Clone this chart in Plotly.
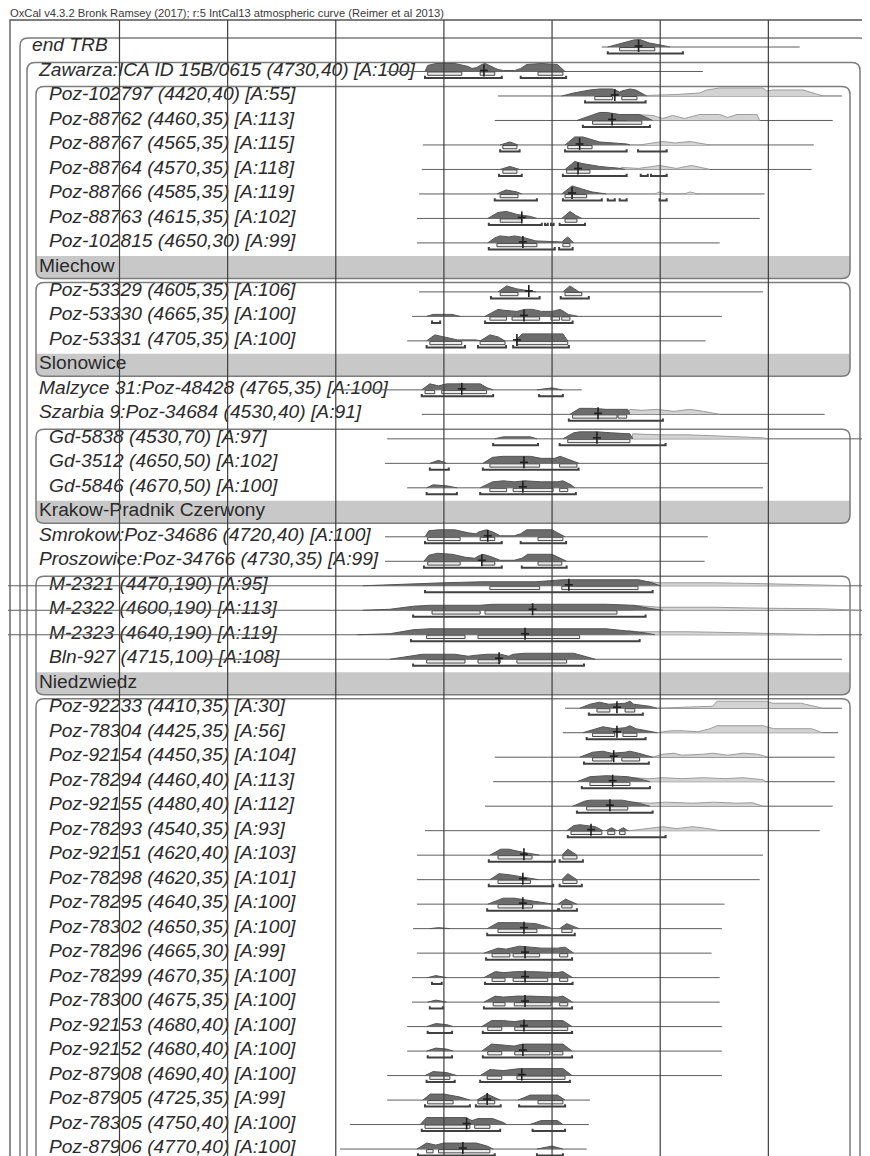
import plotly.graph_objects as go

TITLE = "OxCal v4.3.2 Bronk Ramsey (2017); r:5 IntCal13 atmospheric curve (Reimer et al 2013)"

LABELS = [
    "end TRB", "Zawarza:ICA ID 15B/0615 (4730,40) [A:100]",
    "Poz-102797 (4420,40) [A:55]", "Poz-88762 (4460,35) [A:113]", "Poz-88767 (4565,35) [A:115]",
    "Poz-88764 (4570,35) [A:118]", "Poz-88766 (4585,35) [A:119]", "Poz-88763 (4615,35) [A:102]",
    "Poz-102815 (4650,30) [A:99]", "Miechow",
    "Poz-53329 (4605,35) [A:106]", "Poz-53330 (4665,35) [A:100]", "Poz-53331 (4705,35) [A:100]", "Slonowice",
    "Malzyce 31:Poz-48428 (4765,35) [A:100]", "Szarbia 9:Poz-34684 (4530,40) [A:91]",
    "Gd-5838 (4530,70) [A:97]", "Gd-3512 (4650,50) [A:102]", "Gd-5846 (4670,50) [A:100]", "Krakow-Pradnik Czerwony",
    "Smrokow:Poz-34686 (4720,40) [A:100]", "Proszowice:Poz-34766 (4730,35) [A:99]",
    "M-2321 (4470,190) [A:95]", "M-2322 (4600,190) [A:113]", "M-2323 (4640,190) [A:119]", "Bln-927 (4715,100) [A:108]",
    "Niedzwiedz",
    "Poz-92233 (4410,35) [A:30]", "Poz-78304 (4425,35) [A:56]", "Poz-92154 (4450,35) [A:104]",
    "Poz-78294 (4460,40) [A:113]", "Poz-92155 (4480,40) [A:112]", "Poz-78293 (4540,35) [A:93]",
    "Poz-92151 (4620,40) [A:103]", "Poz-78298 (4620,35) [A:101]", "Poz-78295 (4640,35) [A:100]",
    "Poz-78302 (4650,35) [A:100]", "Poz-78296 (4665,30) [A:99]", "Poz-78299 (4670,35) [A:100]",
    "Poz-78300 (4675,35) [A:100]", "Poz-92153 (4680,40) [A:100]", "Poz-92152 (4680,40) [A:100]",
    "Poz-87908 (4690,40) [A:100]", "Poz-87905 (4725,35) [A:99]", "Poz-78305 (4750,40) [A:100]",
    "Poz-87906 (4770,40) [A:100]",
]

KINDS = (["top", "l1"] + ["l2"] * 7 + ["band"] + ["l2"] * 3 + ["band"] + ["l1"] * 2 + ["l2"] * 3 + ["band"]
         + ["l1"] * 2 + ["l2"] * 4 + ["band"] + ["l2"] * 19)

LINE_START = [3308, 3705, 3500, 3506, 3639, 3641, 3646, 3650, 3650, None,
              3646, 3659, 3668, None, 3792, 3641, 3705, 3709, 3668, None,
              3709, 3709, 4500, 4500, 4500, 4051, None,
              3376, 3380, 3506, 3509, 3524, 3635, 3650, 3650, 3650, 3657, 3650, 3659, 3659,
              3668, 3668, 3705, 3705, 3774, 3792]
LINE_END = [2942, 3121, 2864, 2881, 2916, 2920, 3007, 3016, 3090, None,
            3010, 3086, 3116, None, 3345, 2896, 2780, 3001, 3010, None,
            3112, 3118, 2700, 2700, 2700, 2864, None,
            2864, 2871, 2877, 2877, 2881, 2905, 3010, 3016, 3081, 3086, 3105, 3090, 3090,
            3086, 3086, 3086, 3330, 3332, 3336]

MEDIAN = [3240, 3526, 3284, 3289, 3349, 3352, 3363, 3456, 3454, None,
          3443, 3452, 3465, None, 3567, 3315, 3317, 3452, 3454, None,
          3519, 3530, 3369, 3436, 3450, 3498, None,
          3280, 3280, 3286, 3288, 3293, 3328, 3452, 3454, 3454, 3452, 3450, 3450, 3450,
          3452, 3454, 3456, 3520, 3558, 3565]

# posterior outlines: [year BC, height]
POSTERIOR = [
    [[[3297, 0], [3275, 3], [3249, 7], [3238, 7.5], [3220, 4], [3200, 2], [3182, 0]]],
    [[[3635, 0], [3630, 6], [3615, 8], [3580, 8], [3555, 5], [3548, 3], [3539, 4], [3530, 7], [3524, 8], [3515, 6],
      [3500, 2], [3490, 1], [3469, 1], [3458, 3], [3447, 7], [3420, 8], [3390, 7], [3376, 0]]],
    [[[3382, 0], [3360, 3], [3330, 6], [3312, 7], [3288, 7], [3275, 4], [3271, 5], [3256, 7], [3245, 6], [3225, 0]]],
    [[[3354, 0], [3330, 5], [3312, 8], [3299, 8], [3275, 6], [3238, 6], [3214, 0]]],
    [[[3496, 0], [3478, 3], [3463, 0]], [[3376, 0], [3358, 8], [3343, 8], [3312, 3], [3262, 1], [3256, 0]]],
    [[[3496, 0], [3478, 3], [3460, 0]], [[3376, 0], [3358, 8], [3345, 6], [3312, 3], [3275, 1], [3265, 0]]],
    [[[3502, 0], [3485, 4], [3465, 2], [3456, 0]], [[3382, 0], [3363, 8], [3345, 5], [3326, 2], [3300, 0]]],
    [[[3519, 0], [3500, 6], [3484, 7], [3465, 4], [3440, 2], [3428, 0]], [[3382, 0], [3367, 7], [3356, 3], [3345, 0]]],
    [[[3519, 0], [3506, 5], [3496, 7], [3480, 6], [3469, 7], [3450, 5], [3430, 2], [3400, 1], [3382, 1], [3371, 6], [3360, 0]]],
    None,
    [[[3500, 0], [3484, 6], [3465, 3], [3440, 1], [3430, 0]], [[3380, 0], [3367, 6], [3350, 0]]],
    [[[3632, 0], [3620, 2], [3585, 2], [3570, 0]],
     [[3524, 0], [3500, 7], [3487, 6], [3465, 5], [3450, 7], [3436, 7], [3420, 5], [3400, 5], [3385, 7], [3370, 2], [3352, 0]]],
    [[[3632, 0], [3617, 6], [3600, 4], [3575, 1], [3540, 1], [3533, 0]], [[3533, 0], [3515, 6], [3500, 4], [3487, 0]],
     [[3469, 0], [3455, 7], [3380, 7], [3371, 0]]],
    None,
    [[[3641, 0], [3626, 6], [3610, 4], [3595, 6], [3540, 6], [3533, 6], [3520, 2], [3509, 0]], [[3428, 0], [3400, 2], [3382, 0]]],
    [[[3367, 0], [3349, 6], [3325, 6], [3300, 5], [3260, 5], [3256, 0]]],
    [[[3506, 0], [3490, 2], [3440, 2], [3428, 0]], [[3380, 0], [3360, 6], [3349, 7], [3317, 7], [3290, 6], [3256, 5], [3251, 0]]],
    [[[3626, 0], [3610, 3], [3595, 0]],
     [[3528, 0], [3510, 6], [3490, 7], [3440, 7], [3420, 5], [3395, 5], [3385, 7], [3365, 3], [3350, 0]]],
    [[[3632, 0], [3620, 3], [3595, 2], [3576, 0]],
     [[3533, 0], [3510, 6], [3490, 7], [3470, 6], [3450, 7], [3420, 6], [3390, 6], [3380, 7], [3365, 3], [3358, 0]]],
    None,
    [[[3635, 0], [3628, 6], [3610, 7], [3580, 7], [3555, 4], [3541, 3], [3535, 5], [3522, 7], [3510, 5], [3496, 1],
      [3470, 1], [3458, 3], [3447, 7], [3400, 7], [3376, 0]]],
    [[[3637, 0], [3628, 6], [3612, 8], [3585, 7], [3560, 4], [3543, 3], [3537, 5], [3528, 7], [3515, 5], [3496, 1],
      [3470, 1], [3456, 3], [3445, 7], [3400, 7], [3373, 0]]],
    [[[3750, 0], [3660, 2], [3600, 3], [3530, 4], [3430, 4], [3380, 6], [3240, 6], [3215, 3], [3200, 0]]],
    [[[3750, 0], [3700, 1], [3657, 4], [3626, 5], [3533, 5], [3510, 6], [3300, 6], [3250, 5], [3220, 2], [3195, 0]]],
    [[[3760, 0], [3700, 1], [3657, 5], [3626, 6], [3300, 6], [3260, 4], [3230, 2], [3210, 0]]],
    [[[3700, 0], [3663, 3], [3640, 5], [3580, 5], [3555, 3], [3541, 4], [3520, 5], [3495, 5], [3480, 3], [3472, 5],
      [3450, 6], [3360, 6], [3340, 3], [3320, 0]]],
    None,
    [[[3349, 0], [3330, 4], [3312, 6], [3295, 4], [3265, 5], [3256, 7], [3249, 4], [3220, 2], [3206, 0]]],
    [[[3343, 0], [3320, 4], [3306, 6], [3285, 4], [3265, 5], [3256, 7], [3245, 4], [3215, 1], [3206, 0]]],
    [[[3349, 0], [3325, 5], [3306, 6], [3290, 4], [3265, 5], [3256, 6], [3240, 4], [3214, 0]]],
    [[[3354, 0], [3330, 5], [3299, 6], [3260, 5], [3240, 3], [3219, 0]]],
    [[[3362, 0], [3340, 5], [3330, 6], [3270, 6], [3240, 3], [3219, 0]]],
    [[[3373, 0], [3360, 5], [3349, 6], [3320, 4], [3306, 0]], [[3300, 0], [3290, 3], [3280, 0]], [[3278, 0], [3268, 3], [3260, 0]]],
    [[[3515, 0], [3495, 6], [3480, 6], [3455, 3], [3423, 0]], [[3382, 0], [3371, 6], [3354, 0]]],
    [[[3515, 0], [3498, 6], [3480, 5], [3455, 3], [3425, 0]], [[3382, 0], [3371, 6], [3354, 0]]],
    [[[3519, 0], [3490, 6], [3470, 6], [3445, 4], [3410, 1], [3398, 0]], [[3389, 0], [3375, 5], [3354, 0]]],
    [[[3626, 0], [3610, 1], [3589, 0]], [[3520, 0], [3500, 6], [3460, 6], [3430, 5], [3410, 2], [3400, 0]],
     [[3386, 0], [3373, 5], [3350, 0]]],
    [[[3526, 0], [3500, 5], [3485, 4], [3460, 7], [3440, 6], [3420, 5], [3390, 5], [3376, 6], [3360, 0]]],
    [[[3630, 0], [3615, 2], [3595, 0]],
     [[3526, 0], [3505, 6], [3490, 5], [3465, 6], [3440, 6], [3410, 5], [3390, 5], [3380, 6], [3362, 0]]],
    [[[3630, 0], [3615, 2], [3595, 0]],
     [[3526, 0], [3505, 6], [3490, 5], [3465, 6], [3440, 6], [3410, 5], [3390, 5], [3380, 6], [3362, 0]]],
    [[[3632, 0], [3615, 3], [3595, 2], [3583, 0]], [[3530, 0], [3512, 6], [3490, 6], [3470, 5], [3455, 6], [3380, 6], [3363, 0]]],
    [[[3632, 0], [3615, 3], [3595, 2], [3583, 0]], [[3530, 0], [3512, 7], [3490, 6], [3470, 5], [3455, 7], [3380, 7], [3363, 0]]],
    [[[3635, 0], [3620, 4], [3595, 3], [3576, 0]], [[3533, 0], [3515, 6], [3490, 5], [3472, 6], [3460, 7], [3380, 7], [3363, 0]]],
    [[[3639, 0], [3625, 6], [3600, 6], [3570, 3], [3552, 0]], [[3539, 0], [3520, 6], [3496, 0]],
     [[3463, 0], [3440, 5], [3390, 5], [3376, 0]]],
    [[[3644, 0], [3632, 7], [3560, 7], [3548, 4], [3537, 6], [3510, 6], [3490, 2], [3484, 0]],
     [[3441, 0], [3420, 4], [3390, 4], [3380, 0]]],
    [[[3650, 0], [3632, 6], [3615, 4], [3600, 6], [3540, 6], [3520, 3], [3509, 0]], [[3428, 0], [3400, 3], [3380, 0]]],
]

# unmodelled likelihood outlines where visible beyond the posterior
LIKELIHOOD = [None] * 46
LIKELIHOOD[2] = [[[3225, 0], [3225, 0.5], [3169, 1.5], [3127, 3], [3114, 6], [3090, 8], [3010, 8], [3003, 5], [2992, 6],
                  [2936, 6], [2899, 0]]]
LIKELIHOOD[3] = [[[3262, 0], [3247, 6], [3214, 5], [3195, 2], [3177, 5], [3155, 2], [3127, 6], [3090, 6], [3075, 3],
                  [3058, 6], [3021, 6], [3016, 0]]]
LIKELIHOOD[4] = [[[3238, 0], [3195, 3.5], [3173, 2], [3145, 3.5], [3108, 0]]]
LIKELIHOOD[5] = [[[3293, 0], [3289, 2], [3275, 1], [3271, 2], [3240, 1], [3201, 4], [3170, 1], [3142, 4], [3108, 0]]]
LIKELIHOOD[6] = [[[3210, 0], [3201, 2], [3190, 0]], [[3155, 0], [3145, 2], [3130, 0]]]
LIKELIHOOD[15] = [[[3260, 0], [3256, 5], [3235, 4], [3206, 5], [3175, 3], [3145, 5], [3120, 3], [3090, 0]]]
LIKELIHOOD[16] = [[[3251, 0], [3251, 5], [3200, 4], [3150, 4], [3100, 3], [3050, 2], [3010, 1], [3000, 0]]]
LIKELIHOOD[22] = [[[3240, 0], [3240, 5], [3200, 3], [3100, 3], [3000, 2], [2900, 1], [2850, 0]]]
LIKELIHOOD[23] = [[[3250, 0], [3250, 5], [3200, 3], [3100, 3], [3000, 2], [2900, 1.5], [2830, 0]]]
LIKELIHOOD[24] = [[[3260, 0], [3260, 4], [3238, 3], [3150, 3], [3050, 2], [2950, 1], [2900, 0]]]
LIKELIHOOD[27] = [[[3206, 0], [3150, 1], [3103, 2], [3095, 7], [3003, 7], [2992, 5], [2940, 5], [2915, 2], [2900, 0]]]
LIKELIHOOD[28] = [[[3206, 0], [3180, 2], [3160, 2], [3130, 1], [3108, 4], [3095, 7], [3010, 7], [2990, 4], [2920, 4], [2900, 0]]]
LIKELIHOOD[29] = [[[3214, 0], [3195, 3], [3175, 4], [3160, 2], [3120, 3], [3103, 4], [3075, 2], [3047, 4], [3020, 3], [3000, 0]]]
LIKELIHOOD[30] = [[[3262, 0], [3250, 4], [3220, 3], [3195, 4], [3160, 3], [3120, 4], [3080, 3], [3047, 4], [3010, 2], [3005, 0]]]
LIKELIHOOD[31] = [[[3256, 0], [3250, 4], [3220, 3], [3190, 4], [3140, 3], [3100, 4], [3060, 3], [3030, 3.5], [3010, 0]]]
LIKELIHOOD[32] = [[[3256, 0], [3230, 2], [3195, 4], [3170, 2], [3140, 4], [3110, 2], [3090, 0]]]

RANGE68 = [
    [[3275, 3210]], [[3630, 3567], [3533, 3506], [3426, 3380]], [[3321, 3288], [3271, 3243]], [[3325, 3234]],
    [[3491, 3465], [3371, 3326]], [[3491, 3465], [3373, 3330]], [[3496, 3463], [3376, 3336]],
    [[3496, 3456], [3376, 3354]], [[3502, 3428], [3380, 3367]], None,
    [[3496, 3463], [3376, 3345]], [[3515, 3484], [3474, 3423], [3402, 3386], [3382, 3367]],
    [[3626, 3567], [3533, 3487], [3465, 3371]], None,
    [[3635, 3617], [3604, 3521]], [[3362, 3280], [3278, 3262]], [[3371, 3256]], [[3515, 3423], [3386, 3354]],
    [[3515, 3484], [3472, 3398], [3386, 3371]], None,
    [[3630, 3570], [3533, 3506], [3426, 3380]], [[3630, 3570], [3530, 3506], [3426, 3382]],
    [[3515, 3423], [3382, 3241]], [[3622, 3533], [3524, 3280]], [[3632, 3561], [3537, 3349]],
    [[3632, 3561], [3537, 3496], [3465, 3373]], None,
    [[3317, 3293], [3265, 3247]], [[3325, 3284], [3269, 3243]], [[3325, 3289], [3271, 3238]], [[3330, 3256]],
    [[3336, 3260]], [[3365, 3308], [3297, 3284], [3275, 3265]], [[3500, 3437], [3380, 3354]],
    [[3500, 3440], [3380, 3354]], [[3500, 3436], [3382, 3363]], [[3500, 3428], [3382, 3363]],
    [[3511, 3478], [3472, 3423], [3386, 3371]], [[3511, 3487], [3472, 3408], [3386, 3371]],
    [[3509, 3487], [3470, 3402], [3386, 3371]], [[3519, 3493], [3469, 3371]],
    [[3519, 3493], [3469, 3404], [3400, 3380]], [[3626, 3589], [3520, 3493], [3465, 3376]],
    [[3630, 3583], [3537, 3506], [3426, 3380]], [[3635, 3552], [3543, 3515]], [[3632, 3620], [3610, 3515]],
]

RANGE95 = [
    [[3297, 3158]], [[3635, 3493], [3458, 3374]], [[3339, 3227]], [[3343, 3219]],
    [[3496, 3460], [3376, 3262], [3241, 3188]], [[3498, 3456], [3380, 3262], [3236, 3223], [3217, 3188]],
    [[3506, 3428], [3380, 3308], [3297, 3284], [3275, 3262], [3201, 3188]],
    [[3517, 3419], [3413, 3408], [3402, 3397], [3386, 3339]], [[3517, 3395], [3387, 3362]], None,
    [[3513, 3423], [3384, 3332]], [[3622, 3607], [3524, 3362]], [[3632, 3561], [3537, 3485], [3472, 3369]], None,
    [[3641, 3509], [3424, 3380]], [[3369, 3195]], [[3509, 3426], [3386, 3190]], [[3626, 3591], [3528, 3351]],
    [[3632, 3576], [3533, 3356]], None,
    [[3635, 3493], [3458, 3374]], [[3637, 3493], [3456, 3373]],
    [[3635, 3214]], [[3657, 3227]], [[3661, 3238]], [[3657, 3341]], None,
    [[3332, 3232]], [[3336, 3227]], [[3341, 3221]], [[3345, 3219]], [[3354, 3214]], [[3371, 3190]],
    [[3517, 3395], [3386, 3343]], [[3517, 3398], [3386, 3345]], [[3520, 3389], [3387, 3354]], [[3520, 3358]],
    [[3522, 3363]], [[3622, 3604], [3524, 3362]], [[3626, 3602], [3526, 3363]], [[3630, 3585], [3528, 3363]],
    [[3630, 3585], [3528, 3363]], [[3632, 3580], [3533, 3367]], [[3635, 3552], [3541, 3495], [3461, 3376]],
    [[3641, 3496], [3436, 3376]], [[3648, 3506], [3428, 3380]],
]

GRID_YEARS = [4200, 4000, 3800, 3600, 3400, 3200, 3000]

# group boxes: (first row, band row or None when open at the bottom)
GROUPS = [(2, 9), (10, 13), (16, 19), (22, 26), (27, None)]

# ---------------- layout geometry (page pixel coordinates) ----------------
PAGE_W, PAGE_H = 870, 1156
OFF = 8                      # the page body margin places the figure at (8, 8)
W, H = PAGE_W - OFF, PAGE_H - OFF
TOP = 18                     # page y of the plot area top
X_LEFT, X_RIGHT = 4421.0, 2812.0   # calendar years at page x = 0 and x = 870
ROW0, ROWH = 47.0, 24.49           # page y of the first baseline and the row pitch


def px2yr(px):
    return X_LEFT + (X_RIGHT - X_LEFT) * px / PAGE_W


def py2r(py):
    return (py - ROW0) / ROWH


def dp(p):
    return p / ROWH


def row_py(r):
    return ROW0 + r * ROWH


def xp(px):
    return (px - OFF) / W


def yp(py):
    return (PAGE_H - py) / (PAGE_H - TOP)


FONT = "Liberation Sans, Arial, sans-serif"
fig = go.Figure()

# labels (drawn first so lines can pass over them)
INDENT = {"top": 32, "l1": 39, "l2": 49, "band": 39}
for kind in ("top", "l1", "l2", "band"):
    idx = [i for i, k in enumerate(KINDS) if k == kind]
    fig.add_trace(go.Scatter(
        x=[px2yr(INDENT[kind])] * len(idx), y=[i - dp(0.7) for i in idx],
        text=[LABELS[i] for i in idx], mode="text", textposition="middle right",
        textfont=dict(family=FONT, size=19.2, color="#2b2b2b",
                      style="normal" if kind == "band" else "italic"),
        hoverinfo="skip", showlegend=False, cliponaxis=False))

# baselines
bx, by = [], []
for i in range(len(LABELS)):
    if LINE_START[i] is None:
        continue
    bx += [LINE_START[i], LINE_END[i], None]
    by += [i, i, None]
fig.add_trace(go.Scatter(x=bx, y=by, mode="lines", line=dict(color="#5e5e5e", width=1),
                         hoverinfo="skip", showlegend=False))


def poly_xy(data):
    xs, ys = [], []
    for i, polys in enumerate(data):
        if not polys:
            continue
        for poly in polys:
            xs += [p[0] for p in poly] + [None]
            ys += [i - dp(p[1]) for p in poly] + [None]
    return xs, ys


lx, ly = poly_xy(LIKELIHOOD)
fig.add_trace(go.Scatter(x=lx, y=ly, mode="lines", fill="toself", fillcolor="#d3d3d3",
                         line=dict(color="#9c9c9c", width=1), hoverinfo="skip", showlegend=False))
px_, py_ = poly_xy(POSTERIOR)
fig.add_trace(go.Scatter(x=px_, y=py_, mode="lines", fill="toself", fillcolor="#6c6c6c",
                         line=dict(color="#555555", width=1), hoverinfo="skip", showlegend=False))

# 68.2% ranges as open bars
rx, ry = [], []
for i, rr in enumerate(RANGE68):
    if not rr:
        continue
    for a, b in rr:
        rx += [a, b, b, a, a, None]
        ry += [i + dp(0.5), i + dp(0.5), i + dp(3.8), i + dp(3.8), i + dp(0.5), None]
fig.add_trace(go.Scatter(x=rx, y=ry, mode="lines", fill="toself", fillcolor="#ececec",
                         line=dict(color="#474747", width=1), hoverinfo="skip", showlegend=False))

# 95.4% ranges as bracket lines
qx, qy = [], []
for i, rr in enumerate(RANGE95):
    if not rr:
        continue
    for a, b in rr:
        qx += [a, a, b, b, None]
        qy += [i + dp(4.2), i + dp(6.5), i + dp(6.5), i + dp(4.2), None]
fig.add_trace(go.Scatter(x=qx, y=qy, mode="lines", line=dict(color="#404040", width=2),
                         hoverinfo="skip", showlegend=False))

# median crosses
cx, cy = [], []
half = abs(px2yr(4) - px2yr(0))
for i, m in enumerate(MEDIAN):
    if m is None:
        continue
    cx += [m, m, None, m + half, m - half, None]
    cy += [i - dp(7), i + dp(5), None, i - dp(1), i - dp(1), None]
fig.add_trace(go.Scatter(x=cx, y=cy, mode="lines", line=dict(color="#1e1e1e", width=1.6),
                         hoverinfo="skip", showlegend=False))

# vertical grid lines over everything
gx, gy = [], []
for g in GRID_YEARS:
    gx += [g, g, None]
    gy += [py2r(20), py2r(PAGE_H + 5), None]
fig.add_trace(go.Scatter(x=gx, y=gy, mode="lines", line=dict(color="#3e3e3e", width=1.2),
                         hoverinfo="skip", showlegend=False))

# ---------------- boxes ----------------
shapes = []
RAD = 8
BOX_LINE = dict(color="#7c7c7c", width=1.5)
RXP, RYP = RAD / W, RAD / (PAGE_H - TOP)


def open_box(x0, x1, top, bottom):
    return (f"M {xp(x0)},{yp(bottom)} L {xp(x0)},{yp(top) - RYP} Q {xp(x0)},{yp(top)} {xp(x0) + RXP},{yp(top)} "
            f"L {xp(x1) - RXP},{yp(top)} Q {xp(x1)},{yp(top)} {xp(x1)},{yp(top) - RYP} L {xp(x1)},{yp(bottom)}")


def closed_box(x0, x1, top, bottom):
    return (f"M {xp(x0)},{yp(bottom) + RYP} L {xp(x0)},{yp(top) - RYP} Q {xp(x0)},{yp(top)} {xp(x0) + RXP},{yp(top)} "
            f"L {xp(x1) - RXP},{yp(top)} Q {xp(x1)},{yp(top)} {xp(x1)},{yp(top) - RYP} "
            f"L {xp(x1)},{yp(bottom) + RYP} Q {xp(x1)},{yp(bottom)} {xp(x1) - RXP},{yp(bottom)} "
            f"L {xp(x0) + RXP},{yp(bottom)} Q {xp(x0)},{yp(bottom)} {xp(x0)},{yp(bottom) + RYP} Z")


def band_path(x0, x1, top, bottom):
    return (f"M {xp(x0)},{yp(top)} L {xp(x1)},{yp(top)} L {xp(x1)},{yp(bottom) + RYP} "
            f"Q {xp(x1)},{yp(bottom)} {xp(x1) - RXP},{yp(bottom)} L {xp(x0) + RXP},{yp(bottom)} "
            f"Q {xp(x0)},{yp(bottom)} {xp(x0)},{yp(bottom) + RYP} Z")


# outer frame
shapes.append(dict(type="path", xref="paper", yref="paper",
                   path=f"M {xp(10)},{yp(PAGE_H + 10)} L {xp(10)},{yp(20)} L {xp(PAGE_W + 10)},{yp(20)}",
                   line=dict(color="#555555", width=1.3), layer="below"))
shapes.append(dict(type="path", xref="paper", yref="paper", path=open_box(20, 868, row_py(0) - 9, PAGE_H + 10),
                   line=BOX_LINE, layer="below"))
shapes.append(dict(type="path", xref="paper", yref="paper", path=open_box(27, 860, row_py(1) - 9, PAGE_H + 10),
                   line=BOX_LINE, layer="below"))
for first, band in GROUPS:
    top = row_py(first) - 9.5
    if band is None:
        shapes.append(dict(type="path", xref="paper", yref="paper", path=open_box(36, 850, top, PAGE_H + 10),
                           line=BOX_LINE, layer="below"))
    else:
        bottom = row_py(band) + 11
        shapes.append(dict(type="path", xref="paper", yref="paper",
                           path=band_path(36, 850, row_py(band) - 11.5, bottom),
                           fillcolor="#c8c8c8", line=dict(width=0), layer="below"))
        shapes.append(dict(type="path", xref="paper", yref="paper", path=closed_box(36, 850, top, bottom),
                           line=BOX_LINE, layer="below"))

fig.update_layout(
    width=W, height=H, margin=dict(l=0, r=0, t=TOP - OFF, b=0),
    paper_bgcolor="white", plot_bgcolor="white",
    xaxis=dict(range=[px2yr(OFF), px2yr(PAGE_W)], visible=False, fixedrange=True),
    yaxis=dict(range=[py2r(PAGE_H), py2r(TOP)], visible=False, fixedrange=True),
    shapes=shapes,
    annotations=[dict(text=TITLE, xref="paper", yref="paper", x=xp(OFF), y=yp(13), xanchor="left",
                      yanchor="middle", showarrow=False, font=dict(family=FONT, size=11.2, color="#3a3a3a"))],
    showlegend=False,
)

fig.write_html("out.html")
